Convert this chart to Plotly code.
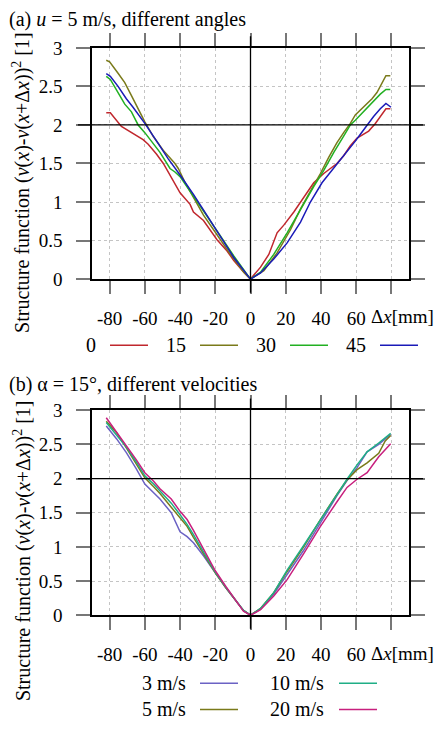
import plotly.graph_objects as go

# ---------------- data ----------------
# Panel (a): u = 5 m/s, different angles
a_names = ["0", "15", "30", "45"]
a_colors = ["#c0272d", "#7a7a1a", "#22b022", "#1a1ab8"]

a0_x = [-81.9, -79.6, -73.3, -70.5, -65.7, -61, -58.1, -53.3, -49.5, -43.8, -40, -34.3, -32.4, -26.7, -22.9, -19,
        -13.3, -9.5, -3.8, 0, 5.7, 10.4, 15.1, 18.9, 24.6, 30.2, 35.9, 41.6, 45.4, 49.1, 52.9, 56.7, 60.5, 64.3,
        67.1, 70.9, 74.7, 76.9, 79.4]
a0_y = [2.157, 2.157, 1.98, 1.94, 1.876, 1.81, 1.75, 1.62, 1.50, 1.27, 1.12, 0.97, 0.87, 0.76, 0.64, 0.51,
        0.365, 0.24, 0.09, 0, 0.155, 0.32, 0.60, 0.70, 0.87, 1.06, 1.25, 1.37, 1.435, 1.50, 1.60, 1.73, 1.83, 1.88,
        1.92, 2.02, 2.15, 2.21, 2.21]

a15_x = [-81.9, -80, -75.2, -71.4, -67.6, -63.8, -60, -55.2, -49.5, -42.9, -41, -37.1, -32.4, -26.7, -19, -11.4,
         -3.8, 0, 7.6, 15.1, 22.7, 28.4, 35, 39.7, 44.4, 49.1, 52.9, 56.7, 59.5, 65.2, 69, 71.8, 74.7, 76.9, 79.4]
a15_y = [2.84, 2.82, 2.67, 2.55, 2.38, 2.21, 2.04, 1.85, 1.67, 1.50, 1.435, 1.25, 1.06, 0.83, 0.575, 0.32,
         0.09, 0, 0.11, 0.34, 0.64, 0.91, 1.18, 1.37, 1.58, 1.77, 1.90, 2.02, 2.13, 2.25, 2.34, 2.42, 2.55, 2.64, 2.64]

a30_x = [-81.9, -79.6, -75.2, -71.4, -67.6, -63.8, -60, -55.2, -51.4, -45.7, -42.9, -40, -32.4, -24.8, -17.1, -9.5,
         0, 5.7, 13.2, 20.8, 28.4, 35.9, 41.6, 47.3, 52.9, 56.7, 59.5, 62.4, 66.2, 69.9, 73.7, 76.9, 79.4]
a30_y = [2.63, 2.59, 2.42, 2.27, 2.17, 2.0, 1.90, 1.75, 1.645, 1.435, 1.39, 1.33, 1.08, 0.83, 0.56, 0.30,
         0, 0.09, 0.32, 0.60, 0.91, 1.20, 1.41, 1.645, 1.855, 2.0, 2.06, 2.13, 2.23, 2.32, 2.40, 2.46, 2.46]

a45_x = [-81.9, -79.6, -75.2, -70.5, -66.7, -60, -53.3, -46.7, -40, -32.4, -24.8, -17.1, -9.5, 0, 5.7, 13.2,
         20.8, 28.4, 34, 40.6, 46.3, 52.9, 59.5, 62.4, 66.2, 69.9, 73.7, 76.9, 79.8]
a45_y = [2.665, 2.63, 2.5, 2.34, 2.23, 2.02, 1.79, 1.56, 1.35, 1.10, 0.83, 0.55, 0.28, 0, 0.08, 0.26,
         0.47, 0.74, 1.0, 1.25, 1.41, 1.60, 1.79, 1.88, 2.0, 2.11, 2.21, 2.28, 2.23]

# Panel (b): alpha = 15 deg, different velocities
b_names = ["3 m/s", "5 m/s", "10 m/s", "20 m/s"]
b_colors = ["#6b62c4", "#7a7a1a", "#1fae86", "#c8207e"]
b_x = [-81.9, -76, -70.5, -65, -60, -55, -51.4, -45, -40, -36, -32.4, -26.7, -20, -14, -9.5, -4, 0,
       5.7, 13.2, 20.8, 30.2, 39.7, 49.1, 54.8, 60.5, 66.2, 72.8, 76.5, 79.6]
b3_y = [2.77, 2.58, 2.38, 2.15, 1.92, 1.80, 1.70, 1.50, 1.22, 1.15, 1.06, 0.87, 0.62, 0.40, 0.25, 0.07, 0,
        0.09, 0.31, 0.59, 0.95, 1.35, 1.75, 1.97, 2.16, 2.39, 2.50, 2.58, 2.645]
b5_y = [2.84, 2.67, 2.45, 2.22, 2.01, 1.88, 1.78, 1.58, 1.42, 1.30, 1.14, 0.90, 0.62, 0.40, 0.25, 0.07, 0,
        0.10, 0.33, 0.64, 1.0, 1.40, 1.77, 1.98, 2.13, 2.23, 2.37, 2.55, 2.63]
b10_y = [2.82, 2.64, 2.46, 2.25, 2.04, 1.92, 1.82, 1.64, 1.47, 1.33, 1.18, 0.92, 0.63, 0.41, 0.25, 0.07, 0,
         0.10, 0.33, 0.66, 1.02, 1.40, 1.78, 1.99, 2.20, 2.39, 2.52, 2.60, 2.66]
b20_y = [2.89, 2.68, 2.48, 2.28, 2.085, 1.96, 1.85, 1.70, 1.52, 1.40, 1.24, 0.96, 0.65, 0.42, 0.25, 0.06, 0,
         0.08, 0.28, 0.52, 0.90, 1.30, 1.66, 1.87, 1.99, 2.085, 2.32, 2.42, 2.51]

x_tickvals = [-80, -60, -40, -20, 0, 20, 40, 60, 80]
x_ticktext = ["-80", "-60", "-40", "-20", "0", "20", "40", "60", ""]
x_unit_label = "Δ<i>x</i>[mm]"   # shown at the place of the last tick
y_tickvals = [0, 0.5, 1, 1.5, 2, 2.5, 3]
y_ticktext = ["0", "0.5", "1", "1.5", "2", "2.5", "3"]

titles = ["(a) <i>u</i> = 5 m/s, different angles", "(b) α = 15°, different velocities"]
ylabel = "Structure function (<i>v</i>(<i>x</i>)-<i>v</i>(<i>x</i>+Δ<i>x</i>))<sup>2</sup> [1]"

# ---------------- layout geometry (pixels) ----------------
W, H = 438, 735
FONT = "Liberation Serif, DejaVu Serif, serif"
FS = 20      # text size
FT = 19      # tick label size
px_l, px_r = 92, 409
pa_top, pa_bot = 39, 277
pb_top, pb_bot = 412, 623


def fx(p):
    return p / W


def fy(p):
    return 1 - p / H


fig = go.Figure()

a_series = [(a0_x, a0_y), (a15_x, a15_y), (a30_x, a30_y), (a45_x, a45_y)]
for (xs, ys), name, col in zip(a_series, a_names, a_colors):
    fig.add_trace(go.Scatter(x=xs, y=ys, mode="lines", name=name, line=dict(color=col, width=1.5),
                             xaxis="x", yaxis="y", showlegend=False))

for ys, name, col in zip([b3_y, b5_y, b10_y, b20_y], b_names, b_colors):
    fig.add_trace(go.Scatter(x=b_x, y=ys, mode="lines", name=name, line=dict(color=col, width=1.5),
                             xaxis="x2", yaxis="y2", showlegend=False))

common_x = dict(range=[-90, 90], tickvals=x_tickvals, ticktext=x_ticktext, ticks="outside", ticklen=13,
                tickwidth=1.5, tickcolor="#777777", showline=True, linecolor="black", linewidth=1.5,
                mirror="allticks", showgrid=True, gridcolor="#c4c4c4", griddash="dot", gridwidth=1,
                zeroline=False, tickfont=dict(family=FONT, size=FT, color="black"), ticklabelstandoff=8,
                tickangle=0, fixedrange=True)
common_y = dict(range=[0, 3], tickvals=y_tickvals, ticktext=y_ticktext, ticks="outside", ticklen=14,
                tickwidth=1.5, tickcolor="#777777", showline=True, linecolor="black", linewidth=1.5,
                mirror="allticks", showgrid=True, gridcolor="#c4c4c4", griddash="dot", gridwidth=1,
                zeroline=False, tickfont=dict(family=FONT, size=FT, color="black"), ticklabelstandoff=10,
                tickangle=0, fixedrange=True)

fig.update_layout(
    width=W, height=H, margin=dict(l=0, r=0, t=0, b=0),
    paper_bgcolor="white", plot_bgcolor="white",
    font=dict(family=FONT, size=FS, color="black"),
    xaxis=dict(domain=[fx(px_l), fx(px_r)], anchor="y", **common_x),
    yaxis=dict(domain=[fy(pa_bot), fy(pa_top)], anchor="x", **common_y),
    xaxis2=dict(domain=[fx(px_l), fx(px_r)], anchor="y2", **common_x),
    yaxis2=dict(domain=[fy(pb_bot), fy(pb_top)], anchor="x2", **common_y),
    showlegend=False,
)

shapes = []
annotations = []
panels = [("x", "y", pa_top, pa_bot, 10, 178), ("x2", "y2", pb_top, pb_bot, 385, 557)]
for i, (xr, yr, top, bot, ty, ly) in enumerate(panels):
    # reference lines y=2 and x=0 extending over the tick marks
    shapes.append(dict(type="line", xref="paper", yref=yr, x0=fx(78), x1=fx(423), y0=2, y1=2,
                       line=dict(color="black", width=1.3), layer="above"))
    shapes.append(dict(type="line", xref=xr, yref="paper", x0=0, x1=0, y0=fy(bot + 14), y1=fy(top - 12),
                       line=dict(color="black", width=1.3), layer="above"))
    annotations.append(dict(text=titles[i], xref="paper", yref="paper", x=fx(7), y=fy(ty), xanchor="left",
                            yanchor="middle", showarrow=False, font=dict(family=FONT, size=FS)))
    annotations.append(dict(text=ylabel, xref="paper", yref="paper", x=fx(22), y=fy(ly), xanchor="center",
                            yanchor="middle", textangle=-90, showarrow=False, font=dict(family=FONT, size=FS)))
    # unit label at the position of the last x tick
    annotations.append(dict(text=x_unit_label, xref=xr, yref="paper", x=x_tickvals[-1], xshift=11,
                            y=fy(bot + 39), xanchor="center", yanchor="middle", showarrow=False,
                            font=dict(family=FONT, size=FT)))

# legend (a): one row, label then line sample
for k, (name, col) in enumerate(zip(a_names, a_colors)):
    yy = fy(345)
    annotations.append(dict(text=name, xref="paper", yref="paper", x=fx(98 + 90 * k), y=yy, xanchor="right",
                            yanchor="middle", showarrow=False, font=dict(family=FONT, size=FS)))
    shapes.append(dict(type="line", xref="paper", yref="paper", x0=fx(110 + 90 * k), x1=fx(148 + 90 * k),
                       y0=yy, y1=yy, line=dict(color=col, width=1.5)))

# legend (b): two rows, two columns
b_pos = [(0, 0), (1, 0), (0, 1), (1, 1)]  # (row, col) for 3, 5, 10, 20 m/s
for (row, col_i), name, col in zip(b_pos, b_names, b_colors):
    yy = fy(693 + 27 * row)
    tx = 188 + 138 * col_i
    lx = 200 + 139 * col_i
    annotations.append(dict(text=name, xref="paper", yref="paper", x=fx(tx), y=yy, xanchor="right",
                            yanchor="middle", showarrow=False, font=dict(family=FONT, size=FS)))
    shapes.append(dict(type="line", xref="paper", yref="paper", x0=fx(lx), x1=fx(lx + 38),
                       y0=yy, y1=yy, line=dict(color=col, width=1.5)))

fig.update_layout(shapes=shapes, annotations=annotations)
fig.write_html("out.html")
